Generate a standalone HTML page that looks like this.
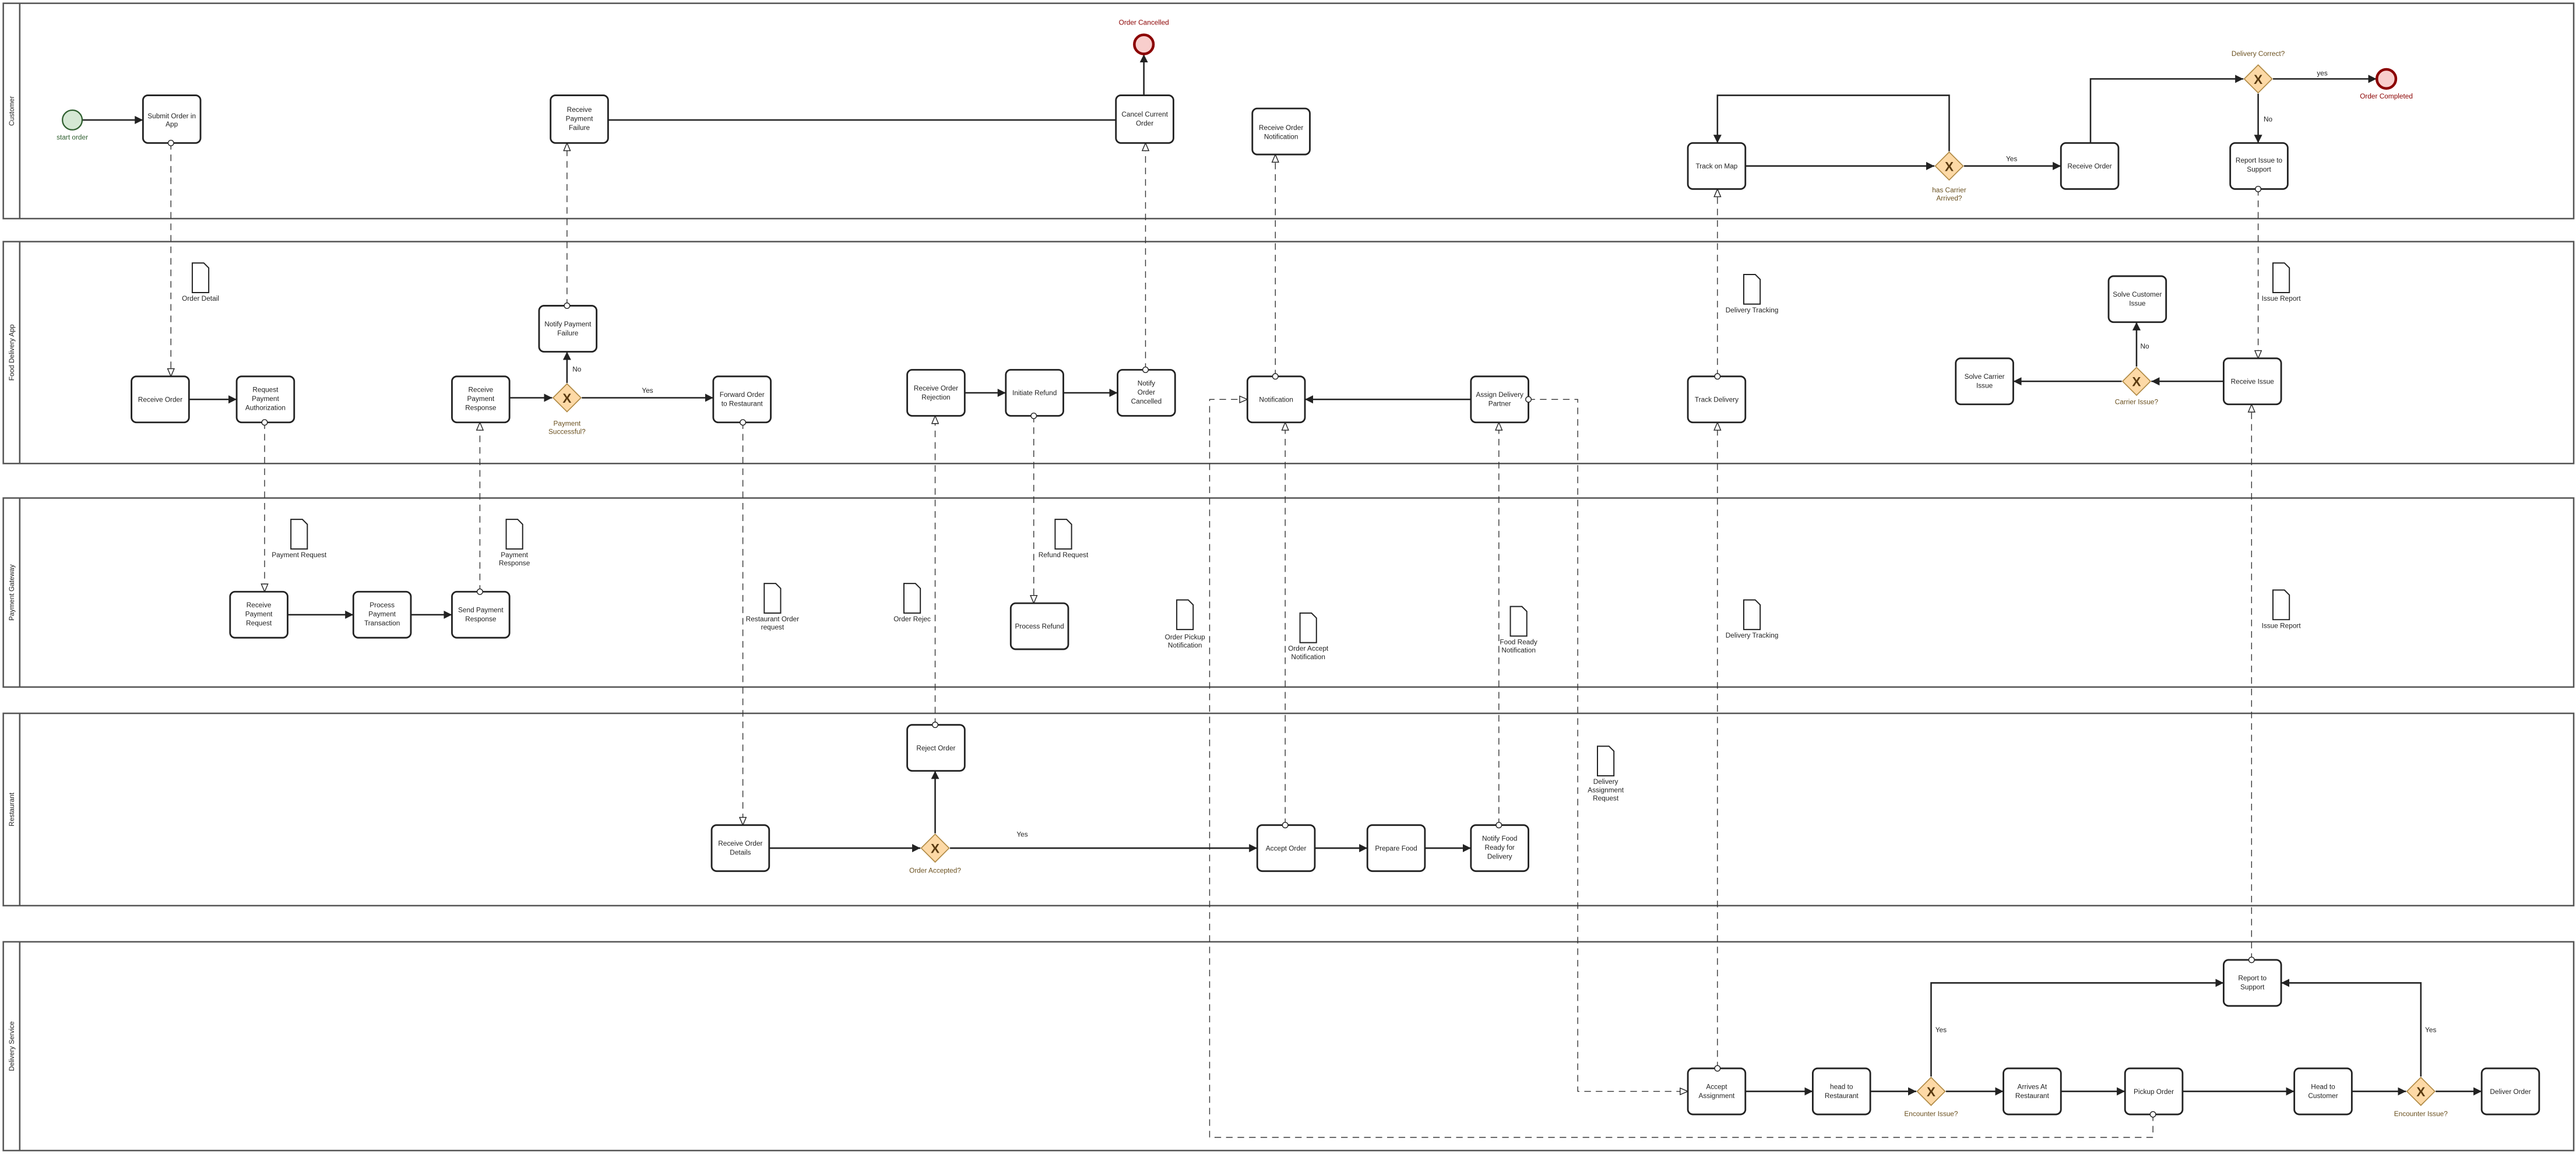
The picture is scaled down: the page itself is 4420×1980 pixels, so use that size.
<!DOCTYPE html>
<html><head><meta charset="utf-8"><style>
html,body{margin:0;padding:0;background:#fff;}
svg{display:block;}
text{font-family:"Liberation Sans",Arial,sans-serif;font-size:4.2px;fill:#222;text-anchor:middle;}
.b{fill:#fff;stroke:#222;stroke-width:1;}
.p{fill:none;stroke:#555;stroke-width:0.9;}
.s{fill:none;stroke:#222;stroke-width:0.9;}
.m{fill:none;stroke:#333;stroke-width:0.5;stroke-dasharray:4,3;}
.g{fill:#fdd9a6;stroke:#b08a45;stroke-width:0.6;}
.gx{fill:#5a3a10;font-size:8px;font-weight:bold;}
.gl{fill:#6b5120;}
.d{fill:#fff;stroke:#222;stroke-width:0.7;}
.c{fill:#fff;stroke:#222;stroke-width:0.5;}
.lane{font-size:4.2px;}
</style></head><body>
<svg width="4420" height="1980" viewBox="0 0 1567.4 702.1" preserveAspectRatio="none" xmlns="http://www.w3.org/2000/svg">
<defs>
<marker id="a" markerUnits="userSpaceOnUse" markerWidth="6" markerHeight="6" refX="5" refY="3" orient="auto"><path d="M0,0.5 L5,3 L0,5.5 z" fill="#222"/></marker>
<marker id="o" markerUnits="userSpaceOnUse" markerWidth="6" markerHeight="6" refX="5" refY="3" orient="auto"><path d="M0.3,1 L5,3 L0.3,5 z" fill="#fff" stroke="#222" stroke-width="0.5"/></marker>
</defs>

<!-- pools -->
<rect class="p" x="2" y="2" width="1564" height="131"/><line class="p" x1="12" y1="2" x2="12" y2="133"/>
<rect class="p" x="2" y="147" width="1564" height="135"/><line class="p" x1="12" y1="147" x2="12" y2="282"/>
<rect class="p" x="2" y="303" width="1564" height="115"/><line class="p" x1="12" y1="303" x2="12" y2="418"/>
<rect class="p" x="2" y="434" width="1564" height="117"/><line class="p" x1="12" y1="434" x2="12" y2="551"/>
<rect class="p" x="2" y="573" width="1564" height="127"/><line class="p" x1="12" y1="573" x2="12" y2="700"/>
<text class="lane" transform="translate(8.5,67.5) rotate(-90)">Customer</text>
<text class="lane" transform="translate(8.5,214.5) rotate(-90)">Food Delivery App</text>
<text class="lane" transform="translate(8.5,360.5) rotate(-90)">Payment Gateway</text>
<text class="lane" transform="translate(8.5,492.5) rotate(-90)">Restaurant</text>
<text class="lane" transform="translate(8.5,636.5) rotate(-90)">Delivery Service</text>

<!-- message flows (dashed) -->
<path class="m" d="M104,87 V229" marker-end="url(#o)"/>
<path class="m" d="M345,186 V87" marker-end="url(#o)"/>
<path class="m" d="M697,225 V87" marker-end="url(#o)"/>
<path class="m" d="M776,229 V94" marker-end="url(#o)"/>
<path class="m" d="M1045,229 V115" marker-end="url(#o)"/>
<path class="m" d="M1374,115 V218" marker-end="url(#o)"/>
<path class="m" d="M161,257 V360" marker-end="url(#o)"/>
<path class="m" d="M292,360 V257" marker-end="url(#o)"/>
<path class="m" d="M629,253 V367" marker-end="url(#o)"/>
<path class="m" d="M452,257 V502" marker-end="url(#o)"/>
<path class="m" d="M569,441 V253" marker-end="url(#o)"/>
<path class="m" d="M782,502 V257" marker-end="url(#o)"/>
<path class="m" d="M912,502 V257" marker-end="url(#o)"/>
<path class="m" d="M1045,650 V257" marker-end="url(#o)"/>
<path class="m" d="M1370,584 V246" marker-end="url(#o)"/>
<path class="m" d="M930,243 H960 V664 H1027" marker-end="url(#o)"/>
<path class="m" d="M1310,678 V692 H736 V243 H759" marker-end="url(#o)"/>

<!-- sequence flows -->
<path class="s" d="M50,73 H87" marker-end="url(#a)"/>
<path class="s" d="M370,73 H679"/>
<path class="s" d="M696,58 V33" marker-end="url(#a)"/>
<path class="s" d="M1062,101 H1177" marker-end="url(#a)"/>
<path class="s" d="M1186,92 V58 H1045 V87" marker-end="url(#a)"/>
<path class="s" d="M1195,101 H1254" marker-end="url(#a)"/>
<path class="s" d="M1272,87 V48 H1365" marker-end="url(#a)"/>
<path class="s" d="M1383,48 H1446" marker-end="url(#a)"/>
<path class="s" d="M1374,57 V87" marker-end="url(#a)"/>
<path class="s" d="M115,243 H144" marker-end="url(#a)"/>
<path class="s" d="M310,242 H336" marker-end="url(#a)"/>
<path class="s" d="M345,233 V214" marker-end="url(#a)"/>
<path class="s" d="M354,242 H434" marker-end="url(#a)"/>
<path class="s" d="M587,239 H612" marker-end="url(#a)"/>
<path class="s" d="M647,239 H680" marker-end="url(#a)"/>
<path class="s" d="M895,243 H794" marker-end="url(#a)"/>
<path class="s" d="M1353,232 H1309" marker-end="url(#a)"/>
<path class="s" d="M1291,232 H1225" marker-end="url(#a)"/>
<path class="s" d="M1300,223 V196" marker-end="url(#a)"/>
<path class="s" d="M175,374 H215" marker-end="url(#a)"/>
<path class="s" d="M250,374 H275" marker-end="url(#a)"/>
<path class="s" d="M468,516 H560" marker-end="url(#a)"/>
<path class="s" d="M569,507 V469" marker-end="url(#a)"/>
<path class="s" d="M578,516 H765" marker-end="url(#a)"/>
<path class="s" d="M800,516 H832" marker-end="url(#a)"/>
<path class="s" d="M867,516 H895" marker-end="url(#a)"/>
<path class="s" d="M1062,664 H1103" marker-end="url(#a)"/>
<path class="s" d="M1138,664 H1166" marker-end="url(#a)"/>
<path class="s" d="M1184,664 H1219" marker-end="url(#a)"/>
<path class="s" d="M1254,664 H1293" marker-end="url(#a)"/>
<path class="s" d="M1328,664 H1396" marker-end="url(#a)"/>
<path class="s" d="M1431,664 H1464" marker-end="url(#a)"/>
<path class="s" d="M1482,664 H1510" marker-end="url(#a)"/>
<path class="s" d="M1175,655 V598 H1353" marker-end="url(#a)"/>
<path class="s" d="M1473,655 V598 H1388" marker-end="url(#a)"/>

<!-- flow labels -->
<text x="1224" y="98">Yes</text>
<text x="1413" y="46">yes</text>
<text x="1380" y="74">No</text>
<text x="351" y="226">No</text>
<text x="394" y="239">Yes</text>
<text x="1305" y="212">No</text>
<text x="622" y="509">Yes</text>
<text x="1181" y="628">Yes</text>
<text x="1479" y="628">Yes</text>

<!-- events -->
<circle cx="44" cy="73" r="6" fill="#d5e8d4" stroke="#2f5f2f" stroke-width="0.8"/>
<text x="44" y="85" fill="#2f5f2f" style="fill:#2f5f2f">start order</text>
<circle cx="696" cy="27" r="5.8" fill="#f8cecc" stroke="#8b0000" stroke-width="1.6"/>
<text x="696" y="15" style="fill:#8b0000">Order Cancelled</text>
<circle cx="1452" cy="48" r="5.8" fill="#f8cecc" stroke="#8b0000" stroke-width="1.6"/>
<text x="1452" y="60" style="fill:#8b0000">Order Completed</text>

<!-- gateways -->
<g>
<path class="g" d="M1186,92.5 L1194.5,101 L1186,109.5 L1177.5,101 z"/><text class="gx" x="1186" y="104">X</text>
<text class="gl" x="1186" y="117">has Carrier</text><text class="gl" x="1186" y="122">Arrived?</text>
<path class="g" d="M1374,39.5 L1382.5,48 L1374,56.5 L1365.5,48 z"/><text class="gx" x="1374" y="51">X</text>
<text class="gl" x="1374" y="34">Delivery Correct?</text>
<path class="g" d="M345,233.5 L353.5,242 L345,250.5 L336.5,242 z"/><text class="gx" x="345" y="245">X</text>
<text class="gl" x="345" y="259">Payment</text><text class="gl" x="345" y="264">Successful?</text>
<path class="g" d="M1300,223.5 L1308.5,232 L1300,240.5 L1291.5,232 z"/><text class="gx" x="1300" y="235">X</text>
<text class="gl" x="1300" y="246">Carrier Issue?</text>
<path class="g" d="M569,507.5 L577.5,516 L569,524.5 L560.5,516 z"/><text class="gx" x="569" y="519">X</text>
<text class="gl" x="569" y="531">Order Accepted?</text>
<path class="g" d="M1175,655.5 L1183.5,664 L1175,672.5 L1166.5,664 z"/><text class="gx" x="1175" y="667">X</text>
<text class="gl" x="1175" y="679">Encounter Issue?</text>
<path class="g" d="M1473,655.5 L1481.5,664 L1473,672.5 L1464.5,664 z"/><text class="gx" x="1473" y="667">X</text>
<text class="gl" x="1473" y="679">Encounter Issue?</text>
</g>

<!-- tasks -->
<rect class="b" x="87" y="58" width="35" height="29" rx="3"/><text x="104.5" y="72">Submit Order in</text><text x="104.5" y="77">App</text>
<rect class="b" x="335" y="58" width="35" height="29" rx="3"/><text x="352.5" y="68">Receive</text><text x="352.5" y="73.5">Payment</text><text x="352.5" y="79">Failure</text>
<rect class="b" x="679" y="58" width="35" height="29" rx="3"/><text x="696.5" y="71">Cancel Current</text><text x="696.5" y="76.5">Order</text>
<rect class="b" x="762" y="66" width="35" height="28" rx="3"/><text x="779.5" y="79">Receive Order</text><text x="779.5" y="84.5">Notification</text>
<rect class="b" x="1027" y="87" width="35" height="28" rx="3"/><text x="1044.5" y="102.5">Track on Map</text>
<rect class="b" x="1254" y="87" width="35" height="28" rx="3"/><text x="1271.5" y="102.5">Receive Order</text>
<rect class="b" x="1357" y="87" width="35" height="28" rx="3"/><text x="1374.5" y="99">Report Issue to</text><text x="1374.5" y="104.5">Support</text>

<rect class="b" x="80" y="229" width="35" height="28" rx="3"/><text x="97.5" y="244.5">Receive Order</text>
<rect class="b" x="144" y="229" width="35" height="28" rx="3"/><text x="161.5" y="238.5">Request</text><text x="161.5" y="244">Payment</text><text x="161.5" y="249.5">Authorization</text>
<rect class="b" x="275" y="229" width="35" height="28" rx="3"/><text x="292.5" y="238.5">Receive</text><text x="292.5" y="244">Payment</text><text x="292.5" y="249.5">Response</text>
<rect class="b" x="328" y="186" width="35" height="28" rx="3"/><text x="345.5" y="198.5">Notify Payment</text><text x="345.5" y="204">Failure</text>
<rect class="b" x="434" y="229" width="35" height="28" rx="3"/><text x="451.5" y="241.5">Forward Order</text><text x="451.5" y="247">to Restaurant</text>
<rect class="b" x="552" y="225" width="35" height="28" rx="3"/><text x="569.5" y="237.5">Receive Order</text><text x="569.5" y="243">Rejection</text>
<rect class="b" x="612" y="225" width="35" height="28" rx="3"/><text x="629.5" y="240.5">Initiate Refund</text>
<rect class="b" x="680" y="225" width="35" height="28" rx="3"/><text x="697.5" y="234.5">Notify</text><text x="697.5" y="240">Order</text><text x="697.5" y="245.5">Cancelled</text>
<rect class="b" x="759" y="229" width="35" height="28" rx="3"/><text x="776.5" y="244.5">Notification</text>
<rect class="b" x="895" y="229" width="35" height="28" rx="3"/><text x="912.5" y="241.5">Assign Delivery</text><text x="912.5" y="247">Partner</text>
<rect class="b" x="1027" y="229" width="35" height="28" rx="3"/><text x="1044.5" y="244.5">Track Delivery</text>
<rect class="b" x="1190" y="218" width="35" height="28" rx="3"/><text x="1207.5" y="230.5">Solve Carrier</text><text x="1207.5" y="236">Issue</text>
<rect class="b" x="1283" y="168" width="35" height="28" rx="3"/><text x="1300.5" y="180.5">Solve Customer</text><text x="1300.5" y="186">Issue</text>
<rect class="b" x="1353" y="218" width="35" height="28" rx="3"/><text x="1370.5" y="233.5">Receive Issue</text>

<rect class="b" x="140" y="360" width="35" height="28" rx="3"/><text x="157.5" y="369.5">Receive</text><text x="157.5" y="375">Payment</text><text x="157.5" y="380.5">Request</text>
<rect class="b" x="215" y="360" width="35" height="28" rx="3"/><text x="232.5" y="369.5">Process</text><text x="232.5" y="375">Payment</text><text x="232.5" y="380.5">Transaction</text>
<rect class="b" x="275" y="360" width="35" height="28" rx="3"/><text x="292.5" y="372.5">Send Payment</text><text x="292.5" y="378">Response</text>
<rect class="b" x="615" y="367" width="35" height="28" rx="3"/><text x="632.5" y="382.5">Process Refund</text>

<rect class="b" x="552" y="441" width="35" height="28" rx="3"/><text x="569.5" y="456.5">Reject Order</text>
<rect class="b" x="433" y="502" width="35" height="28" rx="3"/><text x="450.5" y="514.5">Receive Order</text><text x="450.5" y="520">Details</text>
<rect class="b" x="765" y="502" width="35" height="28" rx="3"/><text x="782.5" y="517.5">Accept Order</text>
<rect class="b" x="832" y="502" width="35" height="28" rx="3"/><text x="849.5" y="517.5">Prepare Food</text>
<rect class="b" x="895" y="502" width="35" height="28" rx="3"/><text x="912.5" y="511.5">Notify Food</text><text x="912.5" y="517">Ready for</text><text x="912.5" y="522.5">Delivery</text>

<rect class="b" x="1027" y="650" width="35" height="28" rx="3"/><text x="1044.5" y="662.5">Accept</text><text x="1044.5" y="668">Assignment</text>
<rect class="b" x="1103" y="650" width="35" height="28" rx="3"/><text x="1120.5" y="662.5">head to</text><text x="1120.5" y="668">Restaurant</text>
<rect class="b" x="1219" y="650" width="35" height="28" rx="3"/><text x="1236.5" y="662.5">Arrives At</text><text x="1236.5" y="668">Restaurant</text>
<rect class="b" x="1293" y="650" width="35" height="28" rx="3"/><text x="1310.5" y="665.5">Pickup Order</text>
<rect class="b" x="1396" y="650" width="35" height="28" rx="3"/><text x="1413.5" y="662.5">Head to</text><text x="1413.5" y="668">Customer</text>
<rect class="b" x="1510" y="650" width="35" height="28" rx="3"/><text x="1527.5" y="665.5">Deliver Order</text>
<rect class="b" x="1353" y="584" width="35" height="28" rx="3"/><text x="1370.5" y="596.5">Report to</text><text x="1370.5" y="602">Support</text>

<!-- message flow source circles -->
<circle class="c" cx="104" cy="87" r="1.7"/>
<circle class="c" cx="345" cy="186" r="1.7"/>
<circle class="c" cx="697" cy="225" r="1.7"/>
<circle class="c" cx="776" cy="229" r="1.7"/>
<circle class="c" cx="1045" cy="229" r="1.7"/>
<circle class="c" cx="1374" cy="115" r="1.7"/>
<circle class="c" cx="161" cy="257" r="1.7"/>
<circle class="c" cx="292" cy="360" r="1.7"/>
<circle class="c" cx="629" cy="253" r="1.7"/>
<circle class="c" cx="452" cy="257" r="1.7"/>
<circle class="c" cx="569" cy="441" r="1.7"/>
<circle class="c" cx="782" cy="502" r="1.7"/>
<circle class="c" cx="912" cy="502" r="1.7"/>
<circle class="c" cx="1045" cy="650" r="1.7"/>
<circle class="c" cx="1370" cy="584" r="1.7"/>
<circle class="c" cx="930" cy="243" r="1.7"/>
<circle class="c" cx="1310" cy="678" r="1.7"/>

<!-- data objects -->
<g>
<path class="d" d="M117,160 h7 l3,3 v15 h-10 z"/><text x="122" y="183">Order Detail</text>
<path class="d" d="M1061,167 h7 l3,3 v15 h-10 z"/><text x="1066" y="190">Delivery Tracking</text>
<path class="d" d="M1383,160 h7 l3,3 v15 h-10 z"/><text x="1388" y="183">Issue Report</text>
<path class="d" d="M177,316 h7 l3,3 v15 h-10 z"/><text x="182" y="339">Payment Request</text>
<path class="d" d="M308,316 h7 l3,3 v15 h-10 z"/><text x="313" y="339">Payment</text><text x="313" y="344">Response</text>
<path class="d" d="M465,355 h7 l3,3 v15 h-10 z"/><text x="470" y="378">Restaurant Order</text><text x="470" y="383">request</text>
<path class="d" d="M550,355 h7 l3,3 v15 h-10 z"/><text x="555" y="378">Order Rejec</text>
<path class="d" d="M642,316 h7 l3,3 v15 h-10 z"/><text x="647" y="339">Refund Request</text>
<path class="d" d="M716,365 h7 l3,3 v15 h-10 z"/><text x="721" y="389">Order Pickup</text><text x="721" y="394">Notification</text>
<path class="d" d="M791,373 h7 l3,3 v15 h-10 z"/><text x="796" y="396">Order Accept</text><text x="796" y="401">Notification</text>
<path class="d" d="M919,369 h7 l3,3 v15 h-10 z"/><text x="924" y="392">Food Ready</text><text x="924" y="397">Notification</text>
<path class="d" d="M1061,365 h7 l3,3 v15 h-10 z"/><text x="1066" y="388">Delivery Tracking</text>
<path class="d" d="M1383,359 h7 l3,3 v15 h-10 z"/><text x="1388" y="382">Issue Report</text>
<path class="d" d="M972,454 h7 l3,3 v15 h-10 z"/><text x="977" y="477">Delivery</text><text x="977" y="482">Assignment</text><text x="977" y="487">Request</text>
</g>
</svg>
</body></html>
